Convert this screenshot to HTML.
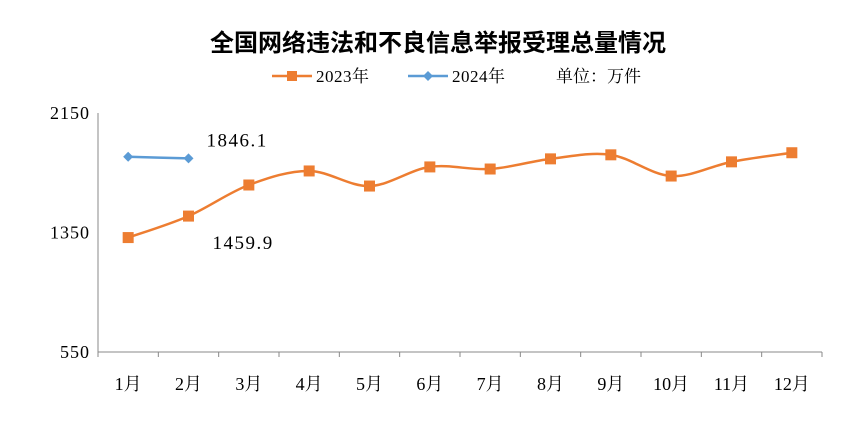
<!DOCTYPE html>
<html><head><meta charset="utf-8"><style>
body{margin:0;background:#fff;width:868px;height:418px;overflow:hidden}
text{font-family:"Liberation Serif","Noto Serif CJK SC",serif}
</style></head><body>
<svg width="868" height="418">
<text x="438" y="51" text-anchor="middle" font-size="24" font-weight="bold" style="font-family:'Liberation Sans','Noto Sans CJK SC',sans-serif">全国网络违法和不良信息举报受理总量情况</text>
<g>
<g><line x1="272" y1="76" x2="312" y2="76" stroke="#ED7D31" stroke-width="2.5"/><rect x="287" y="71" width="10" height="10" fill="#ED7D31"/><text x="316" y="82" font-size="17" letter-spacing="0.5">2023年</text></g>
<g><line x1="408" y1="76" x2="448" y2="76" stroke="#5B9BD5" stroke-width="2.5"/><path d="M428 71l5 5-5 5-5-5z" fill="#5B9BD5"/><text x="452" y="82" font-size="17" letter-spacing="0.5">2024年</text></g>
<text x="556" y="82" font-size="17">单位：万件</text>
</g>
<g id="axes"></g><g id="marks"></g>
</svg>
<script>
const categories=["1月","2月","3月","4月","5月","6月","7月","8月","9月","10月","11月","12月"];
const values2023=[1316,1459.9,1668,1762,1661,1789,1775,1843,1870,1728,1823,1884];
const values2024=[1857,1846.1];
const yTicks=[550,1350,2150];
const NS="http://www.w3.org/2000/svg";
const X0=98,X1=822,Y0=352,Y1=113,YMIN=550,YMAX=2150;
const bw=(X1-X0)/categories.length;
const xs=i=>X0+bw*(i+0.5);
const ys=v=>Y0-(v-YMIN)/(YMAX-YMIN)*(Y0-Y1);
function mk(t,a,p){const e=document.createElementNS(NS,t);for(const k in a)e.setAttribute(k,a[k]);p.appendChild(e);return e;}
const ax=document.getElementById('axes'),mg=document.getElementById('marks');
let e=mk('line',{x1:X0,y1:Y1,x2:X0,y2:Y0,stroke:'#888'},ax);


e=mk('line',{x1:X0,y1:Y0,x2:X1,y2:Y0,stroke:'#888'},ax);


yTicks.forEach(v=>{const t=mk('text',{x:X0-8,y:ys(v)+6,'text-anchor':'end','font-size':18,'letter-spacing':'1'},ax);t.textContent=v;

});
for(let i=0;i<=categories.length;i++){const l=mk('line',{x1:X0+bw*i,y1:Y0,x2:X0+bw*i,y2:Y0+5,stroke:'#888'},ax);

}
categories.forEach((c,i)=>{const t=mk('text',{x:xs(i),y:390,'text-anchor':'middle','font-size':18},ax);t.textContent=c;

});
function smooth(pts){let d=`M${pts[0][0]},${pts[0][1]}`;for(let i=0;i<pts.length-1;i++){const p0=pts[i-1]||pts[i],p1=pts[i],p2=pts[i+1],p3=pts[i+2]||p2;const t=0.5/3;
d+=` C${p1[0]+(p2[0]-p0[0])*t},${p1[1]+(p2[1]-p0[1])*t} ${p2[0]-(p3[0]-p1[0])*t},${p2[1]-(p3[1]-p1[1])*t} ${p2[0]},${p2[1]}`;}return d;}
const p23=values2023.map((v,i)=>[xs(i),ys(v)]);
e=mk('path',{d:smooth(p23),fill:'none',stroke:'#ED7D31','stroke-width':2.5},mg);


p23.forEach(p=>{const r=mk('rect',{x:p[0]-5.5,y:p[1]-5.5,width:11,height:11,fill:'#ED7D31'},mg);

});
const p24=values2024.map((v,i)=>[xs(i),ys(v)]);
e=mk('path',{d:smooth(p24),fill:'none',stroke:'#5B9BD5','stroke-width':2.5},mg);


p24.forEach(p=>{const r=mk('path',{d:`M${p[0]},${p[1]-5}l5,5-5,5-5-5z`,fill:'#5B9BD5'},mg);

});
let t=mk('text',{x:xs(1)+18,y:ys(values2024[1])-12,'font-size':19,'letter-spacing':'1.5'},mg);t.textContent=values2024[1].toFixed(1);


t=mk('text',{x:xs(1)+24,y:ys(values2023[1])+33,'font-size':19,'letter-spacing':'1.5'},mg);t.textContent=values2023[1].toFixed(1);


</script>
</body></html>
